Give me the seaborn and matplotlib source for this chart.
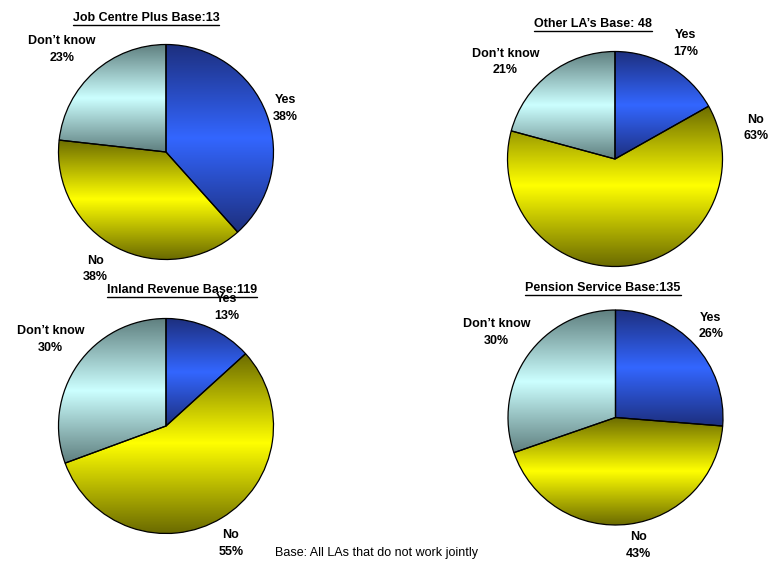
import numpy as np
import matplotlib
matplotlib.use("Agg")
import matplotlib.pyplot as plt
from matplotlib.colors import LinearSegmentedColormap
from matplotlib.lines import Line2D
import seaborn as sns

sns.set_style("white")
plt.rcParams['font.family'] = ['Liberation Sans', 'DejaVu Sans']
plt.rcParams['text.color'] = 'black'

# ---- data ----
categories = ["Yes", "No", "Don\u2019t know"]
titles = ["Job Centre Plus Base:13", "Other LA\u2019s Base: 48",
          "Inland Revenue Base:119", "Pension Service Base:135"]
job_centre = [38, 38, 23]
other_la = [17, 63, 21]
inland_revenue = [13, 55, 30]
pension_service = [26, 43, 30]
footer = "Base: All LAs that do not work jointly"

series = [job_centre, other_la, inland_revenue, pension_service]

# ---- style ----
W, H = 770, 561
fig = plt.figure(figsize=(W / 100, H / 100), dpi=100)
fig.patch.set_facecolor("white")

dark = ["#1d2f7e", "#6b6b00", "#5f7f7f"]
bright = ["#3366ff", "#ffff00", "#ccffff"]

centers = [(166, 152), (615, 159), (166, 426), (615.5, 417.5)]
R = 107.5
title_pos = [(146, 18), (593, 24), (182, 290), (603, 288)]
label_dist = [[1.18, 1.27, 1.36], [1.26, 1.34, 1.36],
              [1.24, 1.25, 1.34], [1.23, 1.21, 1.36]]
label_shift = [[-0.9, -3.8, 3.6], [-1.1, 95.4, 11.1],
               [-3.2, -2.3, -2.0], [1.2, 2.7, 0.0]]
span = 1.7

for i, vals in enumerate(series):
    cx, cy = centers[i]
    half = span * R
    ax = fig.add_axes([(cx - half) / W, (H - cy - half) / H,
                       2 * half / W, 2 * half / H])
    wedges, _ = ax.pie(vals, startangle=90, counterclock=False,
                       radius=1.0,
                       wedgeprops=dict(edgecolor="black", linewidth=0.9))
    tot = float(sum(vals))
    cum = 0.0
    for j, w in enumerate(wedges):
        ext = w.get_path().get_extents()
        cmap = LinearSegmentedColormap.from_list(
            f"g{i}{j}", [dark[j], bright[j], dark[j]])
        grad = np.linspace(0, 1, 256).reshape(-1, 1)
        im = ax.imshow(grad, cmap=cmap, aspect="auto",
                       extent=(ext.x0, ext.x1, ext.y0, ext.y1),
                       origin="upper", zorder=1, interpolation="bilinear")
        im.set_clip_path(w)
        w.set_facecolor("none")
        w.set_zorder(2)
        # label
        frac = vals[j] / tot
        mid = 90 - 360 * (cum + frac / 2)
        cum += frac
        ang = np.deg2rad(mid + label_shift[i][j])
        d = label_dist[i][j]
        ax.text(d * np.cos(ang), d * np.sin(ang),
                f"{categories[j]}\n{vals[j]}%",
                ha="center", va="center", fontsize=9, fontweight="bold",
                color="black", linespacing=1.5, zorder=3, clip_on=False)
    ax.set_xlim(-span, span)
    ax.set_ylim(-span, span)
    ax.set_aspect("equal")
    ax.axis("off")

# titles with underline
fig.canvas.draw()
renderer = fig.canvas.get_renderer()
for t, (tx, ty) in zip(titles, title_pos):
    txt = fig.text(tx / W, 1 - ty / H, t, ha="center", va="center",
                   fontsize=9, fontweight="bold", color="black", zorder=5)
    bb = txt.get_window_extent(renderer=renderer)
    yline = (bb.y0 - 0.5) / H
    fig.add_artist(Line2D([bb.x0 / W, bb.x1 / W], [yline, yline],
                          color="black", linewidth=1.0))

fig.text(275 / W, 1 - 553 / H, footer, ha="left", va="center",
         fontsize=9, color="black")

fig.savefig("out.png", dpi=100, facecolor="white")
